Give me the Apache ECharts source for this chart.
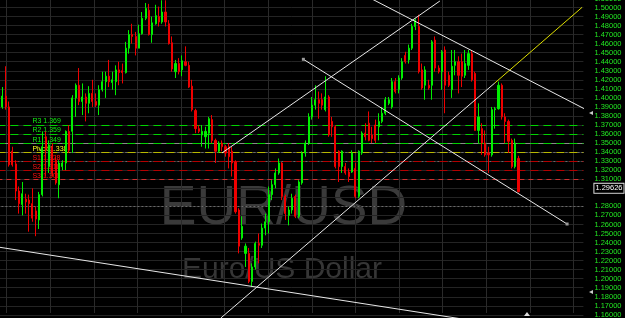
<!DOCTYPE html>
<html><head><meta charset="utf-8">
<script src="https://cdn.jsdelivr.net/npm/echarts@6/dist/echarts.min.js"></script>
<style>html,body{margin:0;padding:0;background:#000;}#c{width:625px;height:318px;}</style>
</head><body><div id="c"></div>
<script>
// ---- data ----
const slotCount = 176; // category slots on the x axis (candles + empty space on the right)
const opens = [1.337,1.390,1.402,1.390,1.341,1.327,1.297,1.282,1.288,1.287,
 1.283,1.275,1.265,1.293,1.357,1.324,1.346,1.331,1.304,1.324,
 1.328,1.363,1.363,1.400,1.414,1.396,1.401,1.394,1.405,1.396,
 1.392,1.409,1.418,1.424,1.417,1.418,1.431,1.430,1.428,1.455,
 1.470,1.468,1.455,1.471,1.488,1.497,1.470,1.482,1.490,1.484,
 1.495,1.482,1.461,1.429,1.438,1.431,1.440,1.436,1.413,1.386,
 1.366,1.359,1.357,1.361,1.376,1.353,1.341,1.350,1.346,1.346,
 1.341,1.329,1.276,1.245,1.228,1.228,1.197,1.213,1.239,1.237,
 1.256,1.263,1.293,1.304,1.317,1.328,1.291,1.270,1.276,1.291,
 1.269,1.306,1.339,1.350,1.379,1.392,1.398,1.398,1.387,1.401,
 1.374,1.368,1.341,1.324,1.324,1.318,1.318,1.322,1.291,1.339,
 1.361,1.372,1.359,1.370,1.368,1.374,1.383,1.394,1.390,1.418,
 1.409,1.422,1.447,1.442,1.455,1.479,1.479,1.431,1.414,1.414,
 1.414,1.464,1.433,1.429,1.453,1.425,1.409,1.436,1.440,1.440,
 1.425,1.436,1.449,1.427,1.364,1.366,1.350,1.339,1.337,1.387,
 1.388,1.414,1.379,1.374,1.353,1.324,1.333];
const closes = [1.390,1.402,1.390,1.326,1.326,1.297,1.283,1.294,1.285,1.283,
 1.267,1.266,1.293,1.346,1.344,1.348,1.317,1.306,1.328,1.328,
 1.363,1.342,1.400,1.414,1.396,1.401,1.394,1.405,1.396,1.392,
 1.409,1.418,1.424,1.418,1.420,1.431,1.428,1.428,1.455,1.470,
 1.468,1.455,1.471,1.488,1.499,1.470,1.483,1.491,1.484,1.495,
 1.484,1.460,1.432,1.438,1.429,1.441,1.436,1.412,1.387,1.366,
 1.363,1.363,1.363,1.377,1.353,1.341,1.350,1.346,1.339,1.335,
 1.328,1.274,1.236,1.258,1.236,1.197,1.213,1.239,1.237,1.256,
 1.263,1.293,1.304,1.317,1.328,1.291,1.272,1.276,1.289,1.269,
 1.307,1.339,1.350,1.379,1.392,1.398,1.394,1.392,1.401,1.359,
 1.368,1.324,1.324,1.341,1.317,1.313,1.339,1.291,1.341,1.361,
 1.357,1.353,1.355,1.353,1.374,1.383,1.398,1.398,1.418,1.407,
 1.422,1.440,1.440,1.455,1.479,1.486,1.429,1.411,1.431,1.411,
 1.462,1.433,1.429,1.451,1.414,1.414,1.435,1.440,1.425,1.424,
 1.438,1.449,1.420,1.364,1.379,1.350,1.337,1.337,1.387,1.388,
 1.414,1.379,1.374,1.352,1.324,1.350,1.29626];
const lows = [1.337,1.388,1.387,1.324,1.324,1.287,1.272,1.270,1.272,1.252,
 1.263,1.247,1.255,1.291,1.313,1.317,1.313,1.304,1.289,1.320,
 1.320,1.339,1.339,1.379,1.392,1.381,1.374,1.383,1.390,1.390,
 1.381,1.407,1.400,1.412,1.409,1.403,1.414,1.416,1.427,1.449,
 1.460,1.447,1.455,1.470,1.486,1.469,1.461,1.481,1.479,1.482,
 1.479,1.459,1.429,1.422,1.426,1.424,1.435,1.411,1.385,1.361,
 1.361,1.346,1.344,1.344,1.350,1.328,1.339,1.341,1.335,1.322,
 1.313,1.272,1.228,1.243,1.213,1.195,1.191,1.210,1.217,1.234,
 1.248,1.250,1.287,1.300,1.315,1.287,1.265,1.259,1.272,1.267,
 1.267,1.304,1.335,1.348,1.376,1.387,1.377,1.387,1.385,1.357,
 1.357,1.322,1.307,1.317,1.315,1.307,1.317,1.289,1.289,1.337,
 1.353,1.352,1.350,1.350,1.353,1.372,1.381,1.392,1.388,1.405,
 1.405,1.420,1.438,1.438,1.453,1.475,1.427,1.409,1.398,1.409,
 1.398,1.429,1.427,1.409,1.383,1.412,1.400,1.425,1.405,1.412,
 1.422,1.431,1.418,1.364,1.350,1.337,1.335,1.317,1.335,1.366,
 1.387,1.376,1.350,1.339,1.322,1.322,1.2955];
const highs = [1.471,1.412,1.435,1.396,1.346,1.331,1.302,1.307,1.294,1.293,
 1.300,1.280,1.296,1.363,1.363,1.353,1.350,1.335,1.331,1.331,
 1.364,1.370,1.403,1.416,1.433,1.416,1.405,1.413,1.420,1.405,
 1.414,1.429,1.429,1.442,1.429,1.436,1.440,1.438,1.462,1.475,
 1.482,1.473,1.481,1.495,1.505,1.504,1.490,1.503,1.501,1.508,
 1.508,1.486,1.468,1.442,1.444,1.447,1.457,1.440,1.420,1.388,
 1.370,1.370,1.368,1.379,1.381,1.355,1.352,1.353,1.348,1.350,
 1.346,1.331,1.278,1.269,1.239,1.234,1.217,1.241,1.250,1.261,
 1.272,1.302,1.309,1.322,1.333,1.329,1.293,1.280,1.294,1.293,
 1.309,1.341,1.353,1.383,1.401,1.414,1.407,1.405,1.424,1.403,
 1.379,1.370,1.342,1.342,1.328,1.322,1.342,1.328,1.342,1.363,
 1.372,1.385,1.368,1.376,1.383,1.390,1.401,1.401,1.422,1.422,
 1.425,1.444,1.451,1.459,1.482,1.488,1.492,1.438,1.435,1.420,
 1.464,1.468,1.436,1.453,1.457,1.429,1.453,1.453,1.446,1.449,
 1.453,1.453,1.453,1.429,1.394,1.372,1.364,1.346,1.390,1.390,
 1.418,1.416,1.383,1.376,1.355,1.355,1.336];

// pivot levels
const pivotNames  = ['R3','R2','R1','Pivot','S1','S2','S3'];
const pivotValues = [1.369,1.359,1.349,1.338,1.328,1.318,1.308];
// other horizontal reference levels
const dottedLevels = [1.3504,1.3468,1.3446,1.3365,1.3254,1.2779];
const solidLevel = 1.3542;
const lastPrice = 1.29626;
const hiddenTickLabels = ['1.29000']; // covered by the price tag in the reference

// y axis ticks
const yMin = 1.15, yMax = 1.51, yStep = 0.01;

// drawn trend lines: [slot index, price]
const lowerSupport  = [[0.28,1.2347],[138.1,1.1560]];
const mainRise      = [[66.6,1.1565],[148.9,1.4165]];
const riseExtension = [[148.9,1.4165],[175.1,1.5002]];
const upperRise     = [[66.95,1.3391],[132.4,1.5072]];
const midFall       = [[91.4,1.4427],[170.6,1.2605]];
const upperFall     = [[112.0,1.5094],[177.5,1.3847]];

// ---- chart ----
const cats = Array.from({length: slotCount}, (_, i) => String(i));
const candles = opens.map((o, i) => [o, closes[i], lows[i], highs[i]]);

const pivotColors = ['#00d400','#00d400','#00d400','#b8b800','#b40000','#b40000','#d03030'];
const pivotLabelColors = ['#10f010','#10f010','#10f010','#ffff20','#ff1010','#ff1010','#ff1010'];

const markData = [];
dottedLevels.forEach(v => markData.push({yAxis: v, lineStyle: {color: '#6a6a6a', type: [2, 2], width: 1}, label: {show: false}}));
markData.push({yAxis: solidLevel, lineStyle: {color: '#8a8a8a', type: 'solid', width: 1}, label: {show: false}});
pivotValues.forEach((v, i) => markData.push({
  yAxis: v,
  lineStyle: {color: pivotColors[i], type: i === 6 ? [5, 4] : [8, 5], width: 1.2},
  label: {show: true, position: 'insideStartTop', distance: [35, 0], formatter: pivotNames[i] + ' ' + v.toFixed(3),
          color: pivotLabelColors[i], fontSize: 7, fontFamily: 'Liberation Sans'}
}));
markData.push({
  yAxis: lastPrice, lineStyle: {color: 'rgba(0,0,0,0)', width: 1},
  label: {show: true, position: 'end', distance: 11, formatter: lastPrice.toFixed(5), color: '#ffffff',
          backgroundColor: '#000', borderColor: '#dddddd', borderWidth: 1, padding: [1, 1, 0, 1],
          fontSize: 7.5, fontFamily: 'Liberation Sans'}
});

function trend(data, color, handles, clip) {
  return {
    type: 'line', xAxisIndex: 1, yAxisIndex: 0, data: data, silent: true, z: 4,
    clip: clip !== false,
    symbol: 'rect', symbolSize: handles ? 3 : 0, showSymbol: !!handles,
    itemStyle: {color: '#9a9a9a'},
    lineStyle: {color: color, width: 1}, animation: false
  };
}

const chart = echarts.init(document.getElementById('c'), null, {renderer: 'canvas'});
chart.setOption({
  backgroundColor: '#000',
  animation: false,
  grid: [
    {left: -2.6, right: 41.6, top: -1.54, bottom: -5.9, containLabel: false, outerBoundsMode: 'none'},
    {left: 6.7, width: 566.8, top: 0, bottom: 5, containLabel: false, outerBoundsMode: 'none'}
  ],
  xAxis: [
    {type: 'category', gridIndex: 0, data: cats, show: false, boundaryGap: true},
    {type: 'value', gridIndex: 0, min: -0.5, max: slotCount - 0.5, show: false},
    {type: 'value', gridIndex: 1, min: 0, max: 13, interval: 1,
     axisLine: {show: false}, axisTick: {show: false}, axisLabel: {show: false},
     splitLine: {show: true, lineStyle: {color: '#2a2a2a', width: 1}}}
  ],
  yAxis: [
    {type: 'value', gridIndex: 0, position: 'right', min: yMin, max: yMax, interval: yStep,
     axisLine: {show: false}, axisTick: {show: false},
     axisLabel: {margin: 11, color: '#22e622', fontSize: 7.5, fontFamily: 'Liberation Sans',
                 formatter: v => { const s = v.toFixed(5); return hiddenTickLabels.includes(s) ? '' : s; },
                 hideOverlap: false},
     splitLine: {show: true, lineStyle: {color: '#242424', width: 1}}},
    {type: 'value', gridIndex: 1, show: false}
  ],
  graphic: [
    {type: 'text', z: 0, silent: true, style: {text: 'EUR/USD', x: 283.5, y: 209, align: 'center', verticalAlign: 'middle',
      font: '55px "Liberation Sans"', fill: '#3a3a3a'}},
    {type: 'text', z: 0, silent: true, style: {text: 'Euro/US Dollar', x: 282, y: 270, align: 'center', verticalAlign: 'middle',
      font: '30px "Liberation Sans"', fill: '#363636'}},
    {type: 'polygon', silent: true, z: 10, shape: {points: [[524, 316], [530, 316], [527, 312]]}, style: {fill: '#dddddd'}},
    {type: 'polygon', silent: true, z: 10, shape: {points: [[589, 113], [593, 111], [593, 115]]}, style: {fill: '#cccccc'}},
    {type: 'polygon', silent: true, z: 10, shape: {points: [[589, 292], [593, 290], [593, 294]]}, style: {fill: '#cccccc'}}
  ],
  series: [
    {
      type: 'candlestick', xAxisIndex: 0, yAxisIndex: 0, data: candles, barWidth: 1.6, z: 3,
      itemStyle: {color: '#00ee00', color0: '#ee0000', borderColor: '#00ee00', borderColor0: '#ee0000', borderWidth: 1},
      markLine: {silent: true, symbol: ['none', 'none'], z: 1, animation: false, data: markData}
    },
    trend(lowerSupport, '#e8e8e8', false),
    trend(mainRise, '#e8e8e8', false),
    trend(riseExtension, '#e0e000', false),
    trend(upperRise, '#e8e8e8', false),
    trend(midFall, '#e8e8e8', true),
    trend(upperFall, '#e8e8e8', false, false)
  ]
});
</script></body></html>
